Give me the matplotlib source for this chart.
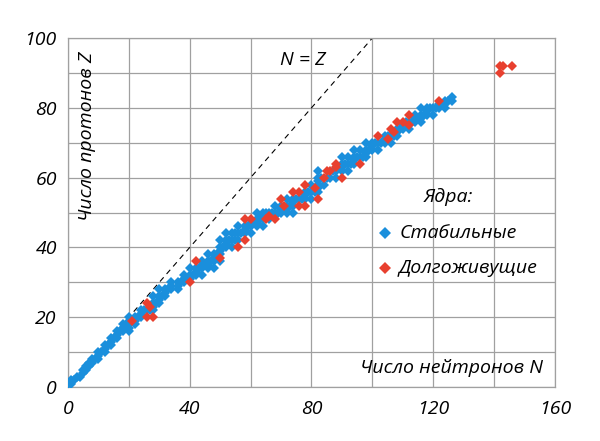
import matplotlib.pyplot as plt
from matplotlib.ticker import MultipleLocator

plt.rcParams['font.family'] = ['Open Sans', 'DejaVu Sans']
plt.rcParams['font.style'] = 'italic'

# Стабильные ядра: для каждого Z - список N
stable_z = list(range(1, 84))
stable_n = [
    [0, 1], [1, 2], [3, 4], [5], [5, 6], [6, 7], [7, 8], [8, 9, 10], [10],
    [10, 11, 12], [12], [12, 13, 14], [14], [14, 15, 16], [16],
    [16, 17, 18, 20], [18, 20], [18, 20, 22], [20, 22], [20, 22, 23, 24],
    [24], [24, 25, 26, 27, 28], [28], [28, 29, 30], [30], [28, 30, 31, 32],
    [32], [30, 32, 33, 34, 36], [34, 36], [34, 36, 37, 38], [38, 40],
    [38, 40, 41, 42, 44], [42], [40, 42, 43, 44, 46, 48], [44, 46],
    [44, 46, 47, 48, 50], [48], [46, 48, 49, 50], [50], [50, 51, 52, 54],
    [52], [50, 52, 53, 54, 55, 56], [],
    [52, 54, 55, 56, 57, 58, 60], [58], [56, 58, 59, 60, 62, 64], [60, 62],
    [62, 63, 64, 66], [64], [62, 64, 65, 66, 67, 68, 69, 70, 72, 74],
    [70, 72], [68, 70, 72, 73, 74], [74], [72, 74, 75, 76, 77, 78, 80],
    [78], [78, 79, 80, 81, 82], [82], [80, 82, 84], [82],
    [82, 83, 85, 86, 88], [], [82, 87, 88, 90, 92], [90],
    [90, 91, 92, 93, 94], [94], [90, 92, 94, 95, 96, 97, 98], [98],
    [94, 96, 98, 99, 100, 102], [100], [98, 100, 101, 102, 103, 104, 106],
    [104], [104, 105, 106, 107, 108], [108], [108, 109, 110, 112], [110],
    [111, 112, 113, 114, 116], [114, 116], [114, 116, 117, 118, 120],
    [118], [116, 118, 119, 120, 121, 122, 124], [122, 124],
    [124, 125, 126], [126],
]

# Долгоживущие ядра
long_n = [21, 26, 28, 27, 26, 40, 42, 50, 56, 58, 58, 60, 65, 68, 66,
          70, 71, 74, 76, 76, 78, 78, 82, 81, 84, 90, 85, 86, 88, 88, 96,
          102, 105, 106, 107, 108, 110, 112, 112, 122, 142, 142, 143, 146]
long_z = [19, 20, 20, 23, 24, 30, 36, 37, 40, 42, 48, 48, 48, 48, 49,
          54, 52, 56, 56, 52, 52, 58, 54, 57, 60, 60, 62, 62, 63, 64, 64,
          72, 71, 74, 73, 76, 76, 75, 78, 82, 90, 92, 92, 92]

blue = '#1a8fdc'
red = '#e8402f'

xs, ys = [], []
for z, ns in zip(stable_z, stable_n):
    for n in ns:
        xs.append(n)
        ys.append(z)

fig = plt.figure(figsize=(6, 4.41), dpi=100)
ax = fig.add_axes([0.1133, 0.1224, 0.8117, 0.7914])

ax.plot([0, 100], [0, 100], color='black', lw=0.8, dashes=(5, 4), zorder=2)
ax.plot(xs, ys, 'D', color=blue, ms=5, mew=0, zorder=3)
ax.plot(long_n, long_z, 'D', color=red, ms=5, mew=0, zorder=4)

ax.set_xlim(0, 160)
ax.set_ylim(0, 100)
ax.xaxis.set_major_locator(MultipleLocator(40))
ax.xaxis.set_minor_locator(MultipleLocator(20))
ax.yaxis.set_major_locator(MultipleLocator(20))
ax.yaxis.set_minor_locator(MultipleLocator(10))
ax.grid(True, which='both', color='#a0a0a0', lw=0.9, zorder=1)
ax.set_axisbelow(True)
ax.tick_params(which='both', length=0, labelsize=14)
ax.tick_params(axis='x', pad=9)
ax.tick_params(axis='y', pad=8)
for s in ax.spines.values():
    s.set_color('#a0a0a0')
    s.set_linewidth(0.9)

ax.text(6.4, 96, 'Число протонов Z', rotation=90, ha='center', va='top', fontsize=14)
ax.text(156, 5.4, 'Число нейтронов N', ha='right', va='center', fontsize=14)
ax.text(77, 93.7, 'N = Z', ha='center', va='center', fontsize=14)
ax.text(125, 54.5, 'Ядра:', ha='center', va='center', fontsize=14)
ax.plot([104], [44], 'D', color=blue, ms=6, mew=0, clip_on=False)
ax.plot([104], [34], 'D', color=red, ms=6, mew=0, clip_on=False)
ax.text(109, 44, 'Стабильные', ha='left', va='center', fontsize=14)
ax.text(108.5, 34, 'Долгоживущие', ha='left', va='center', fontsize=14)

fig.savefig('out.png', dpi=100)
